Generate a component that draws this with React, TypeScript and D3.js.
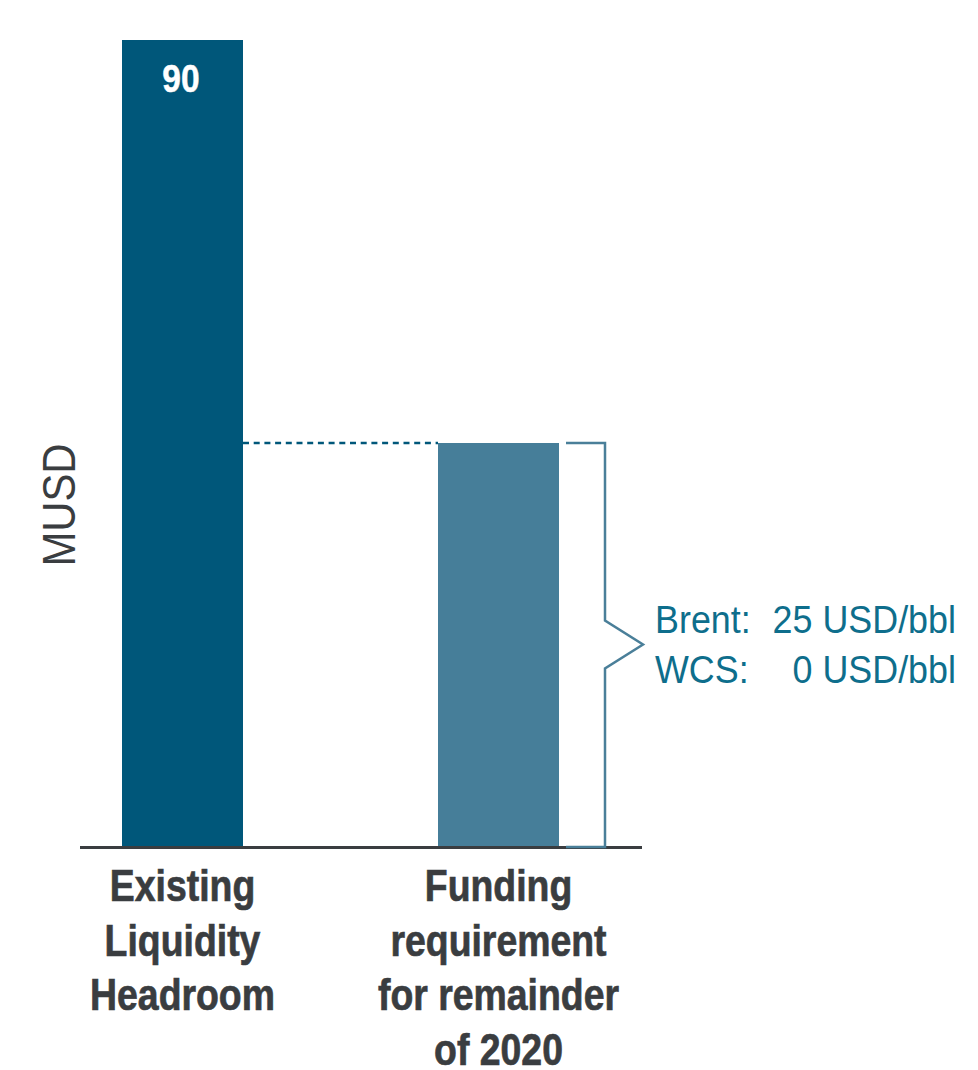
import React from "react";
import * as d3 from "d3";

const categories = ["Existing Liquidity Headroom", "Funding requirement for remainder of 2020"];
const categoryLines = [
  ["Existing", "Liquidity", "Headroom"],
  ["Funding", "requirement", "for remainder", "of 2020"],
];
const values = [90, 45];
const valueLabels = ["90", ""];
const barColors = ["#00577A", "#467E99"];
const yAxisTitle = "MUSD";
const priceLines = [
  { label: "Brent:", value: "25 USD/bbl" },
  { label: "WCS:", value: "0 USD/bbl" },
];

const FONT = '"Liberation Sans", Arial, sans-serif';
const DARK = "#3A3D40";
const BLUE_TEXT = "#0E6E8C";

export default function App() {
  const width = 978;
  const height = 1070;
  const y = d3.scaleLinear().domain([0, 90]).range([846, 40]);
  const x = d3.scalePoint<string>().domain(categories).range([182.5, 498.5]);
  const barW = 121;

  const b1 = x(categories[0])!;
  const b2 = x(categories[1])!;
  const yTop2 = y(values[1]);
  const y0 = y(0);

  const bx0 = 566;
  const bx1 = 605;
  const tipX = 643;
  const mid = (yTop2 + y0) / 2;
  const bracketPath = d3.path();
  bracketPath.moveTo(bx0, yTop2);
  bracketPath.lineTo(bx1, yTop2);
  bracketPath.lineTo(bx1, mid - 24);
  bracketPath.lineTo(tipX, mid);
  bracketPath.lineTo(bx1, mid + 24);
  bracketPath.lineTo(bx1, y0 + 1);
  bracketPath.lineTo(bx0, y0 + 1);

  return (
    <svg width={width} height={height} style={{ position: "absolute", left: 0, top: 0 }}>
      <rect x={0} y={0} width={width} height={height} fill="#fff" />
      {values.map((v, i) => {
        const cx = x(categories[i])!;
        return (
          <rect key={i} x={cx - barW / 2} y={y(v)} width={barW} height={y0 - y(v)} fill={barColors[i]} />
        );
      })}
      {valueLabels.map((l, i) =>
        l ? (
          <text
            key={i}
            transform={`translate(${x(categories[i])! - 1.5}, ${y(values[i]) + 52}) scale(0.86,1)`}
            textAnchor="middle"
            fill="#fff"
            stroke="#fff"
            strokeWidth={0.5}
            fontFamily={FONT}
            fontWeight="bold"
            fontSize={39}
          >
            {l}
          </text>
        ) : null
      )}
      <line
        x1={b1 + barW / 2}
        x2={b2 - barW / 2}
        y1={yTop2}
        y2={yTop2}
        stroke="#00577A"
        strokeWidth={2.5}
        strokeDasharray="6,4.7"
      />
      <line x1={80} x2={642} y1={y0 + 1.5} y2={y0 + 1.5} stroke={DARK} strokeWidth={3} />
      <path d={bracketPath.toString()} fill="none" stroke="#4A7F99" strokeWidth={2.5} />
      <text
        transform={`translate(75, 505) rotate(-90) scale(0.89,1)`}
        textAnchor="middle"
        fill={DARK}
        fontFamily={FONT}
        fontSize={47}
      >
        {yAxisTitle}
      </text>
      {priceLines.map((p, i) => (
        <g key={i} fontFamily={FONT} fontSize={39} fill={BLUE_TEXT}>
          <text transform={`translate(655, ${633 + i * 50}) scale(0.92,1)`}>{p.label}</text>
          <text transform={`translate(956, ${633 + i * 50}) scale(0.92,1)`} textAnchor="end">
            {p.value}
          </text>
        </g>
      ))}
      {categoryLines.map((lines, i) =>
        lines.map((ln, j) => (
          <text
            key={`${i}-${j}`}
            transform={`translate(${x(categories[i])}, ${901 + j * 54.5}) scale(0.85,1)`}
            textAnchor="middle"
            fill={DARK}
            stroke={DARK}
            strokeWidth={0.7}
            fontFamily={FONT}
            fontWeight="bold"
            fontSize={44}
          >
            {ln}
          </text>
        ))
      )}
    </svg>
  );
}
